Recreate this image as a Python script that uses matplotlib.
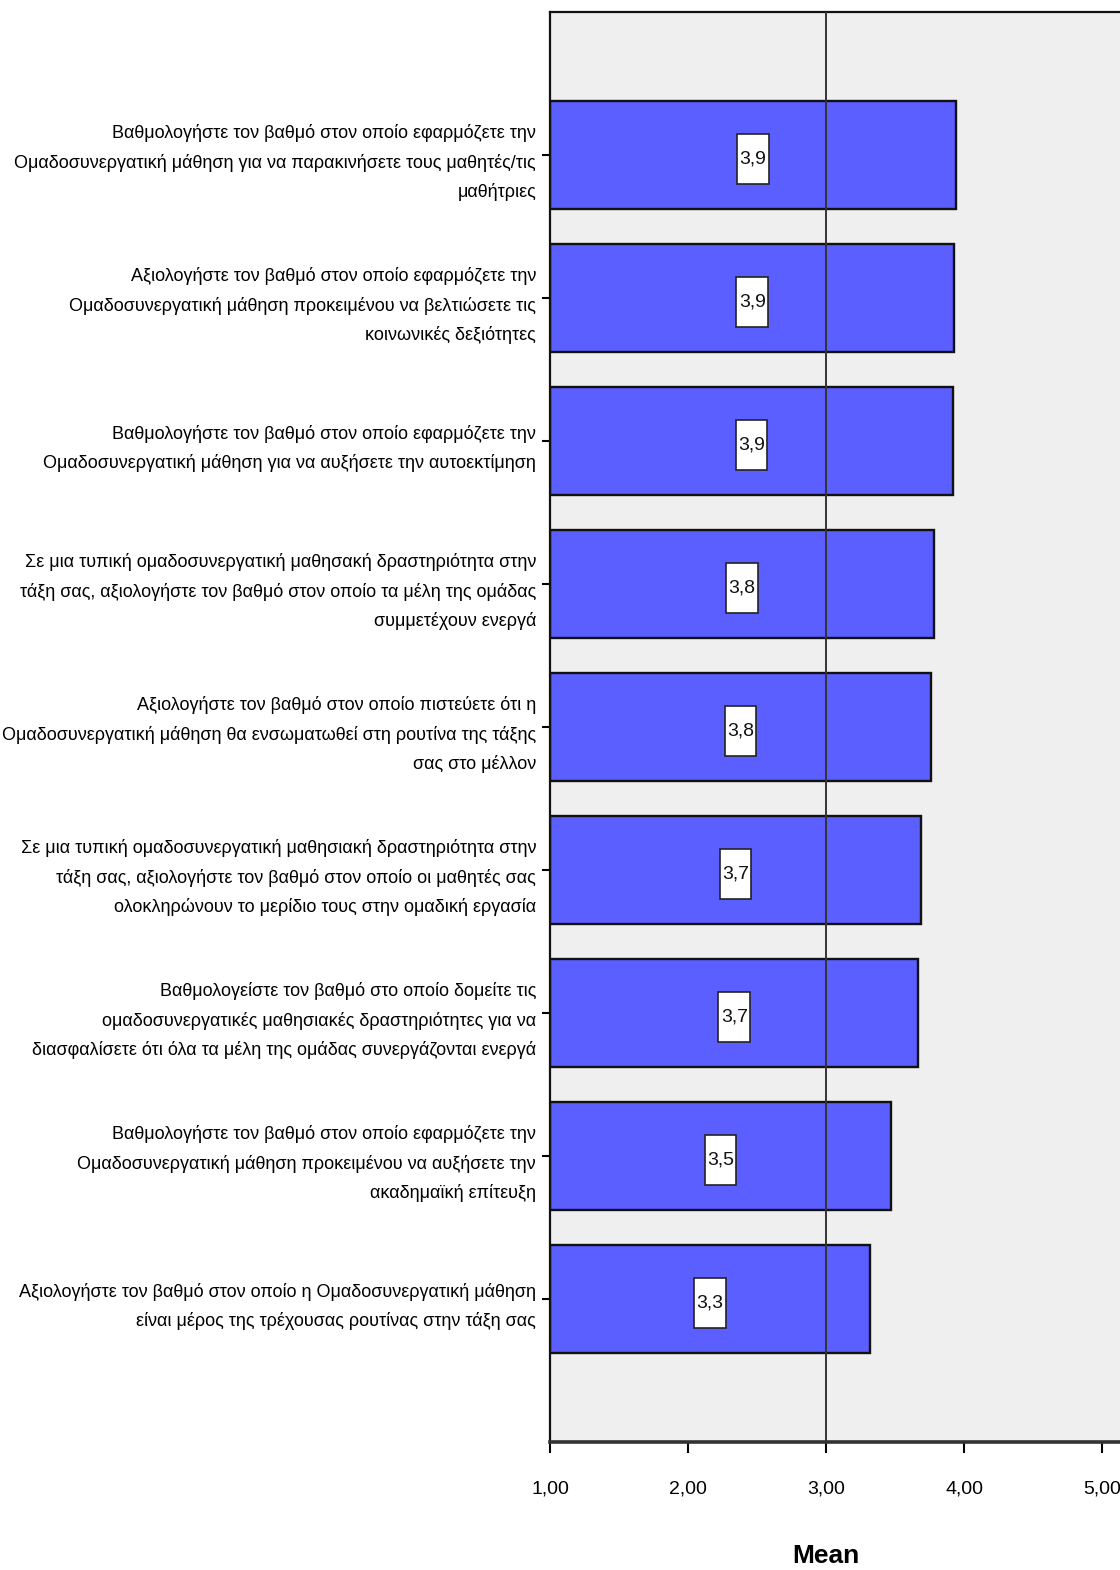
import matplotlib
matplotlib.use("Agg")
import matplotlib.pyplot as plt
import matplotlib.transforms as mtransforms
from matplotlib.path import Path

plt.rcParams['font.family'] = ['Liberation Sans', 'DejaVu Sans']

# Μέσοι όροι ανά ερώτηση (από πάνω προς τα κάτω)
questions = [
    "Βαθμολογήστε τον βαθμό στον οποίο εφαρμόζετε την\nΟμαδοσυνεργατική μάθηση για να παρακινήσετε τους μαθητές/τις\nμαθήτριες",
    "Αξιολογήστε τον βαθμό στον οποίο εφαρμόζετε την\nΟμαδοσυνεργατική μάθηση προκειμένου να βελτιώσετε τις\nκοινωνικές δεξιότητες",
    "Βαθμολογήστε τον βαθμό στον οποίο εφαρμόζετε την\nΟμαδοσυνεργατική μάθηση για να αυξήσετε την αυτοεκτίμηση",
    "Σε μια τυπική ομαδοσυνεργατική μαθησακή δραστηριότητα στην\nτάξη σας, αξιολογήστε τον βαθμό στον οποίο τα μέλη της ομάδας\nσυμμετέχουν ενεργά",
    "Αξιολογήστε τον βαθμό στον οποίο πιστεύετε ότι η\nΟμαδοσυνεργατική μάθηση θα ενσωματωθεί στη ρουτίνα της τάξης\nσας στο μέλλον",
    "Σε μια τυπική ομαδοσυνεργατική μαθησιακή δραστηριότητα στην\nτάξη σας, αξιολογήστε τον βαθμό στον οποίο οι μαθητές σας\nολοκληρώνουν το μερίδιο τους στην ομαδική εργασία",
    "Βαθμολογείστε τον βαθμό στο οποίο δομείτε τις\nομαδοσυνεργατικές μαθησιακές δραστηριότητες για να\nδιασφαλίσετε ότι όλα τα μέλη της ομάδας συνεργάζονται ενεργά",
    "Βαθμολογήστε τον βαθμό στον οποίο εφαρμόζετε την\nΟμαδοσυνεργατική μάθηση προκειμένου να αυξήσετε την\nακαδημαϊκή επίτευξη",
    "Αξιολογήστε τον βαθμό στον οποίο η Ομαδοσυνεργατική μάθηση\nείναι μέρος της τρέχουσας ρουτίνας στην τάξη σας",
]
means = [3.94, 3.93, 3.92, 3.78, 3.76, 3.69, 3.67, 3.47, 3.32]
x_ticks = [1, 2, 3, 4, 5]
ref_value = 3.0
x_start = 1.0


def tall_box(x0, y0, width, height, mutation_size):
    # στενό και ψηλό πλαίσιο για τις τιμές
    px = 0.12 * mutation_size
    py = 0.85 * mutation_size
    x0, y0 = x0 - px, y0 - py
    x1, y1 = x0 + width + 2 * px, y0 + height + 2 * py
    return Path([(x0, y0), (x1, y0), (x1, y1), (x0, y1), (x0, y0)], closed=True)


fig = plt.figure(figsize=(11.2, 15.7), dpi=100)
ax = fig.add_axes([550 / 1120, 128 / 1570, 0.55, 1430 / 1570])
ax.set_facecolor('#efefef')

pos = list(range(len(means)))
widths = [m - x_start for m in means]
ax.barh(pos, widths, left=x_start, height=0.75, color='#5b5fff',
        edgecolor='#111111', linewidth=1.7, zorder=2)
ax.axvline(ref_value, color='#333333', linewidth=1.4, zorder=3)

for p, m in zip(pos, means):
    ax.text((x_start + m) / 2, p + 0.03, f"{m:.1f}".replace('.', ','),
            ha='center', va='center', fontsize=14, color='#111111', zorder=4,
            bbox=dict(boxstyle=tall_box, facecolor='white', edgecolor='#222222', linewidth=1.2))

ax.set_ylim(len(means), -1)
ax.set_xlim(x_start, x_start + 0.55 * 1120 / 138)

ax.set_yticks(pos, questions)
ax.tick_params(axis='y', direction='out', length=6, width=1.5, pad=4, labelsize=13)
for lbl in ax.get_yticklabels():
    lbl.set_multialignment('right')
    lbl.set_linespacing(1.82)

ax.set_xticks(x_ticks, [f"{v:.2f}".replace('.', ',') for v in x_ticks])
ax.tick_params(axis='x', direction='out', length=8, width=1.5, pad=20, labelsize=14)

for side in ('top', 'left'):
    ax.spines[side].set_linewidth(1.6)
    ax.spines[side].set_color('#111111')
ax.spines['bottom'].set_linewidth(2.6)
ax.spines['bottom'].set_color('#333333')
ax.spines['right'].set_visible(False)

ax.set_xlabel('Mean', fontsize=19, fontweight='bold', va='center')
ax.xaxis.set_label_coords(3, -0.08,
                          transform=mtransforms.blended_transform_factory(ax.transData, ax.transAxes))

fig.savefig('out.png', dpi=100)
